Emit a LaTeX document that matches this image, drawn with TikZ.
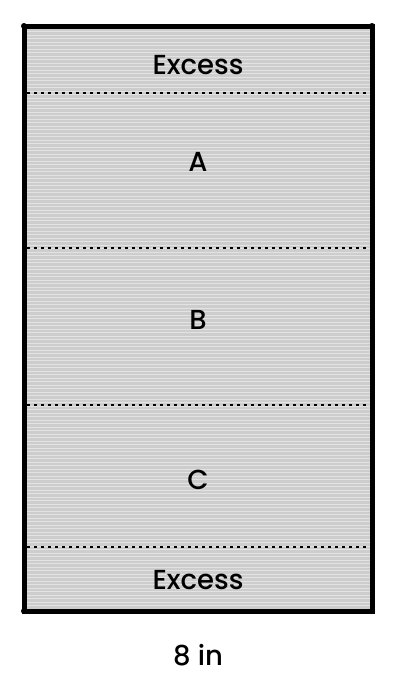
\documentclass[tikz,border=0pt]{standalone}
\usepackage{fontspec}
\setmainfont{Poppins}
\newfontfamily\lblfont{Poppins Medium}
\begin{document}
\begin{tikzpicture}[x=1pt,y=-1pt,
  lbl/.style={font=\lblfont\fontsize{27.5}{29}\selectfont, inner sep=0pt},
  sep/.style={line width=2.8pt, dash pattern=on 2.6pt off 4.4pt},
  border/.style={line width=5pt}]
\useasboundingbox (0,0) rectangle (400,686);
\fill[fill={rgb,255:red,205;green,205;blue,205}] (24,26) rectangle (372,611);
\foreach \y in {28,31,35,38,42,45,49,52,56,59,63,66,70,73,77,80,84,87,91,94,98,101,105,108,112,115,119,122,126,129,133,136,140,143,147,150,154,157,161,164,168,171,175,178,182,185,189,192,196,199,203,206,210,213,217,220,224,227,231,234,238,241,245,248,252,255,259,262,266,269,273,276,280,283,287,290,294,297,301,304,308,311,315,318,322,325,329,332,336,339,343,346,350,353,357,360,364,367,371,374,378,381,385,388,392,395,399,402,406,409,413,416,420,423,427,430,434,437,441,444,448,451,455,458,462,465,469,472,476,479,483,486,490,493,497,500,504,507,511,514,518,521,525,528,532,535,539,542,546,549,553,556,560,563,567,570,574,577,581,584,588,591,595,598,602,605,609}
  \draw[white, opacity=0.45, line width=0.8pt] (25,\y) -- (371,\y);
\draw[border] (24,26) -- (372,26) -- (372,611) -- (24,611) -- cycle;
\foreach \cx/\cy in {24/26,372/26,24/611,372/611}
  \fill (\cx,\cy) circle (3pt);
\coordinate (l1) at (27,93); \coordinate (r1) at (369,93);
\coordinate (l2) at (27,248); \coordinate (r2) at (369,248);
\coordinate (l3) at (27,405); \coordinate (r3) at (369,405);
\coordinate (l4) at (27,547); \coordinate (r4) at (369,547);
\draw[sep] (l1) -- (r1);
\draw[sep] (l2) -- (r2);
\draw[sep] (l3) -- (r3);
\draw[sep] (l4) -- (r4);
\node[lbl] (ex1) at (198,65) {Excess};
\node[lbl] (a) at (198,162) {A};
\node[lbl] (b) at (198,320) {B};
\node[lbl] (c) at (198,480) {C};
\node[lbl] (ex2) at (198,580) {Excess};
\node[lbl] (w) at (198,655) {8 in};
\end{tikzpicture}
\end{document}
